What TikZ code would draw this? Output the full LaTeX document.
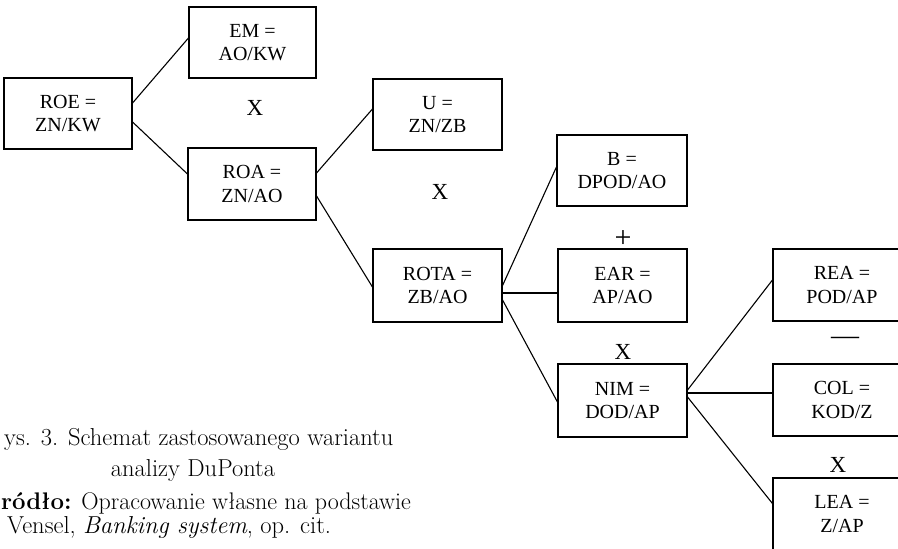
\documentclass[tikz,border=0pt]{standalone}
\usepackage{fontspec}
\newfontfamily\boxfont{Liberation Serif}
\begin{document}
\begin{tikzpicture}[x=1pt,y=-1pt,
  box/.style={draw, line width=1.1pt, minimum width=128pt, minimum height=71pt,
    inner sep=0pt, align=center, font=\boxfont\fontsize{20}{23.5}\selectfont},
  opsym/.style={font=\boxfont\fontsize{23}{26}\selectfont, inner sep=0pt},
  conn/.style={line width=1.1pt},
  captext/.style={font=\fontsize{24.5}{28}\selectfont, inner sep=0pt}]
\useasboundingbox (0,0) rectangle (898,549);
\fill[white] (0,0) rectangle (898,549);
\clip (0,0) rectangle (898,549);
% boxes
\node[box] (ROE) at (68,113.5) {ROE =\\ZN/KW};
\node[box, minimum width=127pt] (EM) at (252.5,42.5) {EM =\\AO/KW};
\node[box, minimum height=72pt] (ROA) at (252,184) {ROA =\\ZN/AO};
\node[box, minimum width=129pt] (U) at (437.5,114.5) {U =\\ZN/ZB};
\node[box, minimum width=129pt, minimum height=73pt] (ROTA) at (437.5,285.5) {ROTA =\\ZB/AO};
\node[box, minimum width=130pt] (B) at (622,170.5) {B =\\DPOD/AO};
\node[box, minimum width=129pt, minimum height=73pt] (EAR) at (622.5,285.5) {EAR =\\AP/AO};
\node[box, minimum width=129pt, minimum height=73pt] (NIM) at (622.5,400.5) {NIM =\\DOD/AP};
\node[box, minimum width=138pt, minimum height=72pt] (REA) at (842,285) {REA =\\POD/AP};
\node[box, minimum width=138pt, minimum height=72pt] (COL) at (842,400) {COL =\\KOD/Z};
\node[box, minimum width=138pt, minimum height=72pt] (LEA) at (842,514) {LEA =\\Z/AP};
% operators
\node[opsym] (x1) at (255,108) {X};
\node[opsym] (x2) at (440,192) {X};
\node[opsym, font=\boxfont\fontsize{30}{30}\selectfont] (p1) at (623,239) {+};
\node[opsym] (x3) at (623,352) {X};
\node[opsym, font=\boxfont\fontsize{28}{28}\selectfont] (m1) at (845,341) {—};
\node[opsym] (x4) at (838,465) {X};
% connectors
\draw[conn] ([yshift=10.5pt]ROE.east) -- ([yshift=4.5pt]EM.west);
\draw[conn] ([yshift=-8.5pt]ROE.east) -- ([yshift=10pt]ROA.west);
\draw[conn] ([yshift=11pt]ROA.east) -- ([yshift=5.5pt]U.west);
\draw[conn] ([yshift=-12pt]ROA.east) -- ([yshift=-1.5pt]ROTA.west);
\draw[conn] (ROTA.east) -- ([yshift=3.5pt]B.west);
\draw[conn] ([yshift=-7.5pt]ROTA.east) -- ([yshift=-7.5pt]EAR.west);
\draw[conn] ([yshift=-14.5pt]ROTA.east) -- ([yshift=-1.5pt]NIM.west);
\draw[conn] ([yshift=10.5pt]NIM.east) -- ([yshift=5pt]REA.west);
\draw[conn] ([yshift=7.5pt]NIM.east) -- ([yshift=7pt]COL.west);
\draw[conn] ([yshift=3.5pt]NIM.east) -- ([yshift=10.5pt]LEA.west);
% caption
\node[captext, anchor=base west] (c1) at (4,445) {ys. 3. Schemat zastosowanego wariantu};
\node[captext, anchor=base] (c2) at (193,476) {analizy DuPonta};
\node[captext, font=\fontsize{24}{28}\selectfont, anchor=base west] (c3) at (1,509) {\textbf{ródło:} Opracowanie własne na podstawie};
\node[captext, anchor=base west] (c4) at (7,533) {Vensel, \textit{Banking system}, op. cit.};
\end{tikzpicture}
\end{document}
